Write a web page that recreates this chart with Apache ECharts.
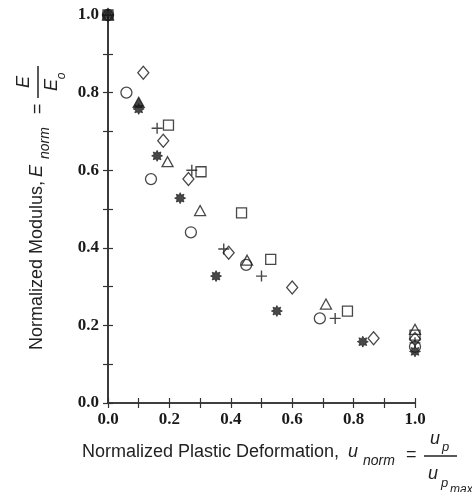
<!DOCTYPE html>
<html>
<head>
<meta charset="utf-8">
<script src="https://cdn.jsdelivr.net/npm/echarts@6/dist/echarts.min.js"></script>
<style>html,body{margin:0;padding:0;background:#fff;}#c{width:472px;height:492px;}</style>
</head>
<body>
<div id="c"></div>
<script>
// ---- data ----
const xTickLabels = ['0.0', '0.2', '0.4', '0.6', '0.8', '1.0'];
const yTickLabels = ['0.0', '0.2', '0.4', '0.6', '0.8', '1.0'];

const circleX   = [0, 0.06, 0.14, 0.27, 0.45, 0.69, 1.0];
const circleY   = [1.0, 0.80, 0.577, 0.44, 0.356, 0.218, 0.145];

const starX     = [0, 0.10, 0.16, 0.235, 0.352, 0.55, 0.83, 1.0];
const starY     = [1.0, 0.758, 0.637, 0.528, 0.327, 0.237, 0.158, 0.133];

const plusX     = [0, 0.16, 0.273, 0.377, 0.50, 0.74, 1.0];
const plusY     = [1.0, 0.708, 0.60, 0.397, 0.327, 0.218, 0.155];

const diamondX  = [0, 0.115, 0.18, 0.262, 0.393, 0.60, 0.865, 1.0];
const diamondY  = [1.0, 0.851, 0.676, 0.577, 0.387, 0.298, 0.167, 0.165];

const triangleX = [0, 0.10, 0.194, 0.30, 0.453, 0.71, 1.0];
const triangleY = [1.0, 0.775, 0.622, 0.496, 0.368, 0.255, 0.19];

const squareX   = [0, 0.197, 0.303, 0.435, 0.53, 0.78, 1.0];
const squareY   = [1.0, 0.716, 0.596, 0.49, 0.37, 0.237, 0.175];

// ---- styling / construction ----
function zip(xs, ys) { return xs.map((x, i) => [x, ys[i]]); }

function starPath(n, rOut, rIn) {
  let d = '';
  for (let i = 0; i < 2 * n; i++) {
    const r = i % 2 === 0 ? rOut : rIn;
    const a = Math.PI * i / n - Math.PI / 2;
    const x = 10 + r * Math.cos(a), y = 10 + r * Math.sin(a);
    d += (i === 0 ? 'M' : 'L') + x.toFixed(2) + ',' + y.toFixed(2);
  }
  return 'path://' + d + 'Z';
}

const INK = '#1a1a1a';
const hollow = { color: 'rgba(0,0,0,0)', borderColor: INK, borderWidth: 1.3 };

function fmtTick(labels) {
  return function (v) {
    const k = Math.round(v * 10);
    return k % 2 === 0 ? labels[k / 2] : '';
  };
}

const tickFont = { fontFamily: 'Liberation Serif', fontWeight: 'bold', fontSize: 17, color: INK };
const axisLine = { show: true, lineStyle: { color: '#333', width: 1.6 } };
const axisTick = { show: true, inside: true, length: 5, lineStyle: { color: '#333', width: 1.2 } };

const triData = zip(triangleX, triangleY).map((p, i) =>
  i === 1 ? { value: p, itemStyle: { color: INK } } : p);

const chart = echarts.init(document.getElementById('c'), null, { renderer: 'canvas' });
const sans = 'Liberation Sans';
const TC = '#222';

chart.setOption({
  animation: false,
  backgroundColor: '#fff',
  grid: { left: 108, right: 57, top: 15, bottom: 89 },
  xAxis: [
    { type: 'value', min: 0, max: 1, interval: 0.1, position: 'bottom',
      axisLine, axisTick, splitLine: { show: false },
      axisLabel: Object.assign({ margin: 8, formatter: fmtTick(xTickLabels) }, tickFont) },
    { type: 'value', min: 0, max: 1, interval: 0.1, position: 'top',
      axisLine, axisTick, splitLine: { show: false }, axisLabel: { show: false } }
  ],
  yAxis: [
    { type: 'value', min: 0, max: 1, interval: 0.1, position: 'left',
      axisLine, axisTick, splitLine: { show: false },
      axisLabel: Object.assign({ margin: 9, formatter: fmtTick(yTickLabels) }, tickFont) },
    { type: 'value', min: 0, max: 1, interval: 0.1, position: 'right',
      axisLine, axisTick, splitLine: { show: false }, axisLabel: { show: false } }
  ],
  series: [
    { type: 'scatter', clip: false, symbol: 'circle', symbolSize: 11,
      itemStyle: hollow, data: zip(circleX, circleY) },
    { type: 'scatter', clip: false, symbol: 'rect', symbolSize: 10,
      itemStyle: hollow, data: zip(squareX, squareY) },
    { type: 'scatter', clip: false, symbol: 'diamond', symbolSize: [11, 13],
      itemStyle: hollow, data: zip(diamondX, diamondY) },
    { type: 'scatter', clip: false, symbol: 'triangle', symbolSize: [11, 10],
      itemStyle: hollow, data: triData },
    { type: 'scatter', clip: false, symbol: 'path://M0,5L10,5M5,0L5,10', symbolSize: 11,
      itemStyle: { color: 'rgba(0,0,0,0)', borderColor: INK, borderWidth: 1.4 },
      data: zip(plusX, plusY) },
    { type: 'scatter', clip: false, symbol: starPath(8, 10, 6), symbolSize: 11,
      itemStyle: { color: INK, borderColor: INK, borderWidth: 0.8 }, data: zip(starX, starY) }
  ],
  graphic: [
    // x axis title
    { type: 'text', x: 82, y: 452, style: { text: 'Normalized Plastic Deformation,', font: '18px ' + sans, fill: TC, textVerticalAlign: 'middle', textAlign: 'left' } },
    { type: 'text', x: 348, y: 452, style: { text: 'u', font: 'italic 18px ' + sans, fill: TC, textVerticalAlign: 'middle', textAlign: 'left' } },
    { type: 'text', x: 363, y: 461, style: { text: 'norm', font: 'italic 14px ' + sans, fill: TC, textVerticalAlign: 'middle', textAlign: 'left' } },
    { type: 'text', x: 406, y: 455, style: { text: '=', font: '18px ' + sans, fill: TC, textVerticalAlign: 'middle', textAlign: 'left' } },
    { type: 'line', shape: { x1: 424, y1: 456, x2: 457, y2: 456 }, style: { stroke: TC, lineWidth: 1.5 } },
    { type: 'text', x: 430, y: 439, style: { text: 'u', font: 'italic 18px ' + sans, fill: TC, textVerticalAlign: 'middle', textAlign: 'left' } },
    { type: 'text', x: 442, y: 447, style: { text: 'p', font: 'italic 13px ' + sans, fill: TC, textVerticalAlign: 'middle', textAlign: 'left' } },
    { type: 'text', x: 428, y: 474, style: { text: 'u', font: 'italic 18px ' + sans, fill: TC, textVerticalAlign: 'middle', textAlign: 'left' } },
    { type: 'text', x: 441, y: 483, style: { text: 'p', font: 'italic 13px ' + sans, fill: TC, textVerticalAlign: 'middle', textAlign: 'left' } },
    { type: 'text', x: 450, y: 490, style: { text: 'max', font: 'italic 12px ' + sans, fill: TC, textVerticalAlign: 'middle', textAlign: 'left' } },
    // y axis title (rotated)
    { type: 'text', x: 37, y: 350, rotation: Math.PI / 2, style: { text: 'Normalized Modulus,', font: '18px ' + sans, fill: TC, textVerticalAlign: 'middle', textAlign: 'left' } },
    { type: 'text', x: 37, y: 177, rotation: Math.PI / 2, style: { text: 'E', font: 'italic 18px ' + sans, fill: TC, textVerticalAlign: 'middle', textAlign: 'left' } },
    { type: 'text', x: 45, y: 159, rotation: Math.PI / 2, style: { text: 'norm', font: 'italic 14px ' + sans, fill: TC, textVerticalAlign: 'middle', textAlign: 'left' } },
    { type: 'text', x: 38, y: 114, rotation: Math.PI / 2, style: { text: '=', font: '18px ' + sans, fill: TC, textVerticalAlign: 'middle', textAlign: 'left' } },
    { type: 'line', shape: { x1: 38, y1: 66, x2: 38, y2: 98 }, style: { stroke: TC, lineWidth: 1.5 } },
    { type: 'text', x: 24, y: 82, rotation: Math.PI / 2, style: { text: 'E', font: 'italic 18px ' + sans, fill: TC, textVerticalAlign: 'middle', textAlign: 'center' } },
    { type: 'text', x: 52, y: 85, rotation: Math.PI / 2, style: { text: 'E', font: 'italic 18px ' + sans, fill: TC, textVerticalAlign: 'middle', textAlign: 'center' } },
    { type: 'text', x: 62, y: 76, rotation: Math.PI / 2, style: { text: 'o', font: 'italic 12px ' + sans, fill: TC, textVerticalAlign: 'middle', textAlign: 'center' } }
  ]
});
</script>
</body>
</html>
